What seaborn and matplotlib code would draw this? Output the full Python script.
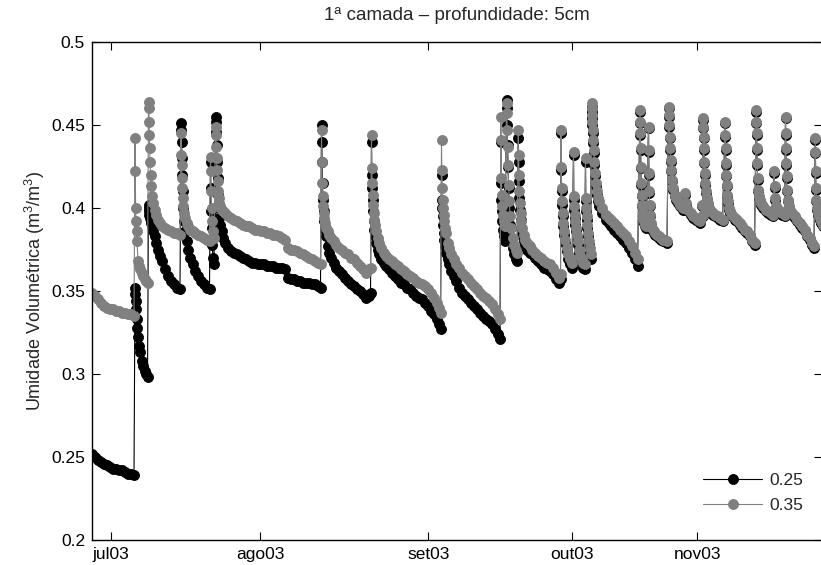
import matplotlib
matplotlib.use("Agg")
import matplotlib.pyplot as plt
from matplotlib.ticker import FixedLocator, FixedFormatter
import pandas as pd
import seaborn as sns

# Número da leitura (eixo horizontal) e umidade volumétrica das duas séries
leitura = [
    0, 30, 60, 90, 120, 150, 180, 210, 240, 270, 300, 330, 360, 390, 420,
    430, 433, 436, 440, 445, 450, 460, 470, 480, 495, 510, 525, 540, 555,
    565, 568, 571, 574, 577, 580, 585, 590, 600, 610, 625, 640, 660, 680, 700, 730, 760, 790, 820, 850, 880,
    890, 893, 896, 900, 904, 908, 913, 920, 930, 945, 960, 980, 1005, 1030, 1060, 1090, 1120, 1150, 1175,
    1185, 1188, 1192, 1196, 1202, 1210, 1220,
    1235, 1238, 1241, 1245, 1250, 1255, 1260, 1266, 1273, 1280, 1295, 1310, 1330, 1360, 1390,
    1420, 1450, 1480, 1510, 1540, 1570, 1600, 1630, 1660, 1690, 1720, 1750, 1780, 1810, 1840,
    1870, 1900, 1930, 1960, 1990, 2020, 2050, 2080, 2110, 2140, 2170, 2200, 2230, 2260, 2285,
    2295, 2298, 2301, 2305, 2310, 2316, 2323, 2330, 2340, 2355, 2370, 2390, 2415, 2440, 2470,
    2500, 2530, 2560, 2590, 2620, 2650, 2680, 2710, 2740, 2770, 2785,
    2795, 2798, 2801, 2805, 2810, 2816, 2823, 2830, 2840, 2855, 2870, 2890, 2915, 2940, 2970,
    3000, 3030, 3060, 3090, 3120, 3150, 3180, 3210, 3240, 3270, 3300, 3330, 3360, 3390, 3420, 3450, 3470, 3485,
    3495, 3498, 3501, 3505, 3510, 3516, 3523, 3530, 3540, 3555, 3570, 3590, 3615, 3640, 3670,
    3700, 3730, 3760, 3790, 3820, 3850, 3880, 3910, 3940, 3970, 4000, 4030, 4060, 4080,
    4088, 4091, 4094, 4098, 4103, 4110, 4120, 4130,
    4145, 4148, 4151, 4155, 4160, 4166, 4173, 4180, 4190, 4205, 4220, 4235, 4250,
    4263, 4266, 4269, 4273, 4278, 4285, 4293, 4303, 4315, 4330, 4350, 4375, 4400, 4430, 4460,
    4490, 4520, 4550, 4580, 4610, 4640, 4665, 4685,
    4690, 4693, 4696, 4700, 4705, 4712, 4720, 4730, 4745, 4760, 4780, 4800,
    4815, 4818, 4821, 4825, 4830, 4837, 4845, 4855, 4867, 4880, 4895, 4910, 4925,
    4935, 4938, 4941, 4945, 4950, 4957, 4965, 4975, 4985,
    4995, 4998, 5001, 5004, 5008, 5012, 5017, 5023, 5030, 5038, 5047, 5058, 5070, 5100, 5140,
    5165, 5190, 5220, 5250, 5280, 5310, 5340, 5370, 5400, 5430, 5455,
    5480, 5482, 5484, 5486, 5489, 5492, 5496, 5500, 5506, 5513, 5522, 5532, 5543,
    5565, 5567, 5569, 5572, 5576, 5582, 5590, 5600, 5615, 5630, 5650, 5670, 5690, 5710, 5730, 5750,
    5765, 5768, 5771, 5775, 5780, 5786, 5793, 5802, 5813, 5826, 5840, 5860, 5880, 5905, 5925,
    5940, 5960, 5985, 6010, 6035, 6060, 6080,
    6095, 6105, 6112, 6114, 6116, 6119, 6122, 6126, 6131, 6137, 6145, 6155, 6170, 6190, 6210,
    6230, 6255, 6280, 6305,
    6332, 6334, 6336, 6339, 6342, 6346, 6351, 6358, 6366, 6380, 6400, 6425, 6450, 6475, 6500,
    6525, 6550, 6575, 6600, 6625,
    6642, 6644, 6646, 6649, 6652, 6656, 6661, 6667, 6675, 6690, 6710, 6735, 6760, 6785, 6810,
    6822, 6825, 6830, 6840, 6855, 6875, 6900, 6925,
    6935, 6937, 6939, 6942, 6945, 6949, 6955, 6965, 6980, 7000, 7025, 7050, 7075, 7100, 7125,
    7150, 7175, 7200, 7220,
    7232, 7234, 7236, 7239, 7243, 7250, 7260, 7275, 7290, 7310,
]

umid_025 = [
    .252, .250, .248, .247, .246, .245, .244, .243, .243, .242, .242, .241, .240, .240, .239,
    .352, .348, .344, .339, .333, .328, .322, .317, .313, .308, .305, .302, .300, .298,
    .402, .400, .398, .396, .395, .394, .392, .391, .389, .386, .383, .379, .375, .371, .368, .363, .359, .356, .354, .352, .351,
    .451, .447, .440, .430, .420, .410, .400, .392, .386, .380, .375, .370, .366, .362, .359, .356, .354, .352, .351,
    .428, .412, .398, .388, .378, .370, .366,
    .455, .452, .446, .438, .428, .418, .408, .400, .394, .390, .386, .382, .379, .376, .374,
    .373, .372, .371, .370, .369, .368, .367, .367, .366, .366, .366, .365, .365, .365, .364,
    .364, .364, .363, .358, .357, .357, .356, .356, .355, .355, .355, .354, .354, .353, .352,
    .450, .440, .428, .415, .405, .398, .392, .387, .383, .377, .373, .370, .367, .364, .362,
    .360, .358, .356, .354, .353, .351, .350, .348, .346, .347, .349,
    .440, .420, .412, .405, .398, .392, .387, .383, .379, .375, .372, .369, .367, .365, .363,
    .361, .359, .357, .355, .354, .352, .351, .349, .347, .346, .345, .343, .341, .338, .336, .333, .330, .327,
    .420, .405, .400, .395, .390, .385, .381, .377, .373, .369, .366, .362, .359, .356, .352,
    .349, .347, .345, .343, .341, .339, .337, .335, .333, .332, .330, .327, .324, .321,
    .440, .415, .405, .398, .392, .387, .383, .380,
    .465, .460, .450, .438, .425, .412, .400, .390, .382, .376, .372, .369, .368,
    .442, .428, .416, .406, .399, .393, .388, .384, .380, .377, .375, .373, .372, .370, .368,
    .366, .364, .363, .362, .360, .357, .355, .357,
    .445, .423, .410, .402, .395, .389, .384, .379, .374, .369, .366, .364,
    .432, .405, .399, .394, .390, .386, .382, .378, .373, .368, .366, .364, .363,
    .428, .404, .398, .393, .388, .383, .378, .373, .369,
    .461, .458, .454, .450, .445, .439, .433, .426, .419, .413, .408, .404, .401, .397, .393,
    .391, .389, .387, .385, .383, .381, .379, .376, .373, .369, .365,
    .458, .451, .444, .435, .424, .414, .407, .401, .396, .393, .391, .389, .388,
    .448, .434, .420, .409, .401, .395, .390, .387, .385, .384, .383, .382, .381, .380, .380, .379,
    .460, .455, .449, .442, .435, .428, .422, .416, .411, .407, .405, .403, .401, .399, .408,
    .402, .398, .396, .394, .393, .392, .391,
    .401, .395, .453, .448, .442, .435, .427, .420, .414, .409, .405, .402, .399, .397, .396,
    .395, .394, .393, .392,
    .451, .443, .435, .426, .419, .413, .407, .403, .399, .397, .395, .393, .392, .390, .388,
    .386, .385, .383, .380, .378,
    .458, .451, .444, .435, .426, .417, .410, .406, .404, .402, .400, .398, .397, .396, .395,
    .421, .412, .405, .400, .398, .397, .396, .395,
    .454, .444, .435, .426, .418, .410, .404, .400, .398, .396, .394, .392, .390, .388, .386,
    .383, .381, .378, .376,
    .441, .433, .421, .411, .404, .399, .396, .393, .391, .389,
]

umid_035 = [
    .349, .347, .345, .343, .341, .340, .339, .339, .338, .338, .337, .337, .336, .336, .335,
    .442, .422, .400, .392, .386, .380, .368, .365, .363, .361, .359, .357, .356, .355,
    .464, .460, .452, .444, .436, .428, .420, .413, .407, .403, .399, .396, .393, .391, .389, .388, .387, .386, .385, .385, .384,
    .445, .432, .426, .418, .412, .406, .401, .397, .394, .391, .389, .387, .386, .385, .384, .383, .382, .381, .380,
    .431, .422, .410, .400, .392, .386, .382,
    .449, .444, .437, .430, .423, .416, .410, .406, .403, .401, .399, .398, .397, .395, .394,
    .393, .392, .391, .390, .389, .389, .388, .387, .387, .386, .386, .385, .385, .384, .384,
    .383, .382, .381, .376, .375, .375, .374, .373, .372, .371, .370, .369, .368, .367, .366,
    .447, .428, .415, .407, .401, .397, .394, .391, .388, .386, .384, .382, .380, .378, .376,
    .375, .373, .372, .370, .369, .367, .365, .363, .361, .363, .364,
    .444, .424, .415, .408, .402, .397, .393, .390, .386, .382, .379, .376, .373, .371, .369,
    .368, .366, .365, .363, .362, .360, .359, .358, .356, .355, .354, .353, .351, .349, .346, .343, .340, .337,
    .441, .423, .412, .405, .400, .396, .392, .388, .385, .379, .376, .372, .369, .366, .364,
    .361, .359, .357, .355, .353, .351, .349, .347, .346, .344, .342, .339, .336, .333,
    .455, .441, .418, .408, .401, .396, .392, .389,
    .463, .457, .447, .437, .426, .414, .404, .395, .388, .382, .378, .375, .373,
    .447, .432, .420, .410, .403, .397, .392, .388, .384, .381, .379, .377, .375, .373, .371,
    .370, .368, .367, .366, .364, .361, .358, .360,
    .447, .425, .412, .404, .397, .391, .386, .381, .376, .372, .369, .367,
    .434, .407, .401, .396, .392, .388, .384, .380, .375, .371, .369, .367, .366,
    .430, .406, .400, .395, .390, .385, .380, .376, .372,
    .463, .460, .456, .452, .447, .441, .435, .428, .421, .415, .410, .406, .404, .400, .396,
    .394, .393, .391, .389, .387, .385, .383, .380, .377, .373, .369,
    .459, .452, .445, .436, .425, .415, .408, .402, .397, .394, .392, .390, .389,
    .449, .435, .421, .410, .402, .396, .391, .388, .386, .385, .384, .383, .382, .381, .381, .380,
    .461, .456, .450, .443, .436, .429, .423, .417, .412, .408, .406, .404, .402, .400, .409,
    .403, .399, .397, .395, .394, .393, .392,
    .402, .396, .454, .449, .443, .436, .428, .421, .415, .410, .406, .403, .400, .398, .397,
    .396, .395, .394, .393,
    .452, .444, .436, .427, .420, .414, .408, .404, .400, .398, .396, .394, .393, .391, .389,
    .387, .386, .384, .381, .379,
    .459, .452, .445, .436, .427, .418, .411, .407, .405, .403, .401, .399, .398, .397, .396,
    .422, .413, .406, .401, .399, .398, .397, .396,
    .455, .445, .436, .427, .419, .411, .405, .401, .399, .397, .395, .393, .391, .389, .387,
    .384, .382, .379, .377,
    .442, .434, .422, .412, .405, .400, .397, .394, .392, .390,
]

series = ["0.25", "0.35"]
cores = ["#000000", "#808080"]

meses = ["jul03", "ago03", "set03", "out03", "nov03"]
inicio_mes = [190, 1682, 3363, 4803, 6054]

y_ticks = [0.2, 0.25, 0.3, 0.35, 0.4, 0.45, 0.5]
y_labels = ["0.2", "0.25", "0.3", "0.35", "0.4", "0.45", "0.5"]

sns.set_style("ticks")
plt.rcParams["font.family"] = ["Liberation Sans", "DejaVu Sans"]
plt.rcParams["mathtext.fontset"] = "custom"
plt.rcParams["mathtext.rm"] = "Liberation Sans"
plt.rcParams["mathtext.it"] = "Liberation Sans:italic"
plt.rcParams["axes.edgecolor"] = "black"

fig = plt.figure(figsize=(8.21, 5.65), dpi=100)
ax = fig.add_axes([92 / 821, 25 / 565, 729.5 / 821, 498 / 565])

for nome, valores, cor in zip(series, [umid_025, umid_035], cores):
    df = pd.DataFrame({"leitura": leitura, "umidade": valores})
    sns.lineplot(data=df, x="leitura", y="umidade", ax=ax, color=cor,
                 estimator=None, sort=False, legend=False,
                 linewidth=0.8, marker="o", markersize=7.2,
                 markeredgewidth=0.6, markeredgecolor=cor)

ax.set_xlim(0, 7295)
ax.set_ylim(0.2, 0.5)
ax.xaxis.set_major_locator(FixedLocator(inicio_mes))
ax.xaxis.set_major_formatter(FixedFormatter(meses))
ax.yaxis.set_major_locator(FixedLocator(y_ticks))
ax.yaxis.set_major_formatter(FixedFormatter(y_labels))
ax.tick_params(direction="in", length=6, width=0.8, top=True, right=True,
               labelsize=12.5, pad=5, colors="black")

for s in ax.spines.values():
    s.set_linewidth(1.0)
    s.set_color("black")

ax.set_xlabel("")
ax.set_ylabel("Umidade Volumétrica (m$^3$/m$^3$)", fontsize=13)
ax.yaxis.set_label_coords(-0.062, 0.5)
ax.set_title("1ª camada – profundidade: 5cm", fontsize=13.5, pad=16)

leg = ax.legend(ax.get_lines()[:2], series, loc="lower right",
                bbox_to_anchor=(0.975, 0.055), frameon=False, fontsize=12.5,
                handlelength=3.4, handletextpad=0.4, labelspacing=0.55,
                borderaxespad=0, borderpad=0)

fig.savefig("out.png", dpi=100)
